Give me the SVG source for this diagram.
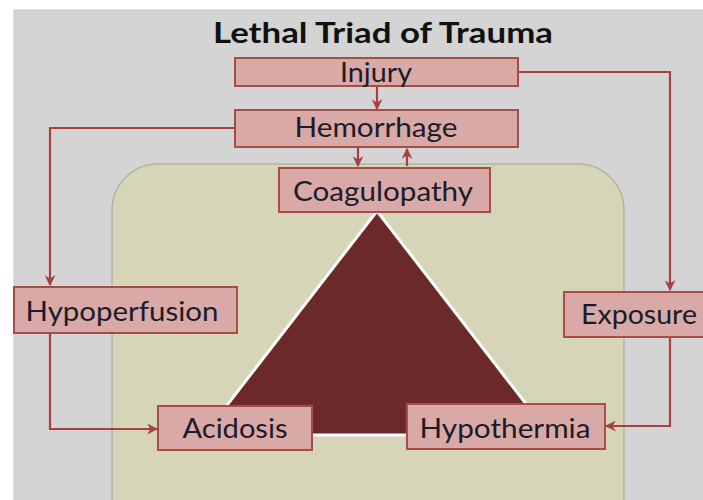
<svg xmlns="http://www.w3.org/2000/svg" width="703" height="500" viewBox="0 0 703 500">
<defs>
<marker id="ah" viewBox="0 0 10 10" refX="9" refY="5" markerWidth="5" markerHeight="5" orient="auto" markerUnits="strokeWidth">
<path d="M0,0 L10,5 L0,10 L3,5 Z" fill="#a8403f"/>
</marker>
<style>
.box{fill:#d9a9a8;stroke:#a84c4a;stroke-width:2}
.lbl{font-family:Lato,"Open Sans","Liberation Sans",sans-serif;font-size:26px;fill:#1c1c28;text-anchor:middle}
.con{fill:none;stroke:#a8403f;stroke-width:2.2;marker-end:url(#ah)}
</style>
</defs>
<rect x="0" y="0" width="703" height="500" fill="#ffffff"/>
<rect x="14" y="10" width="700" height="500" fill="#d4d4d4" stroke="#c4c8cc" stroke-width="1"/>
<text x="383" y="43" font-family="Lato,'Open Sans','Liberation Sans',sans-serif" font-size="28" font-weight="bold" fill="#111" text-anchor="middle" textLength="340" lengthAdjust="spacingAndGlyphs">Lethal Triad of Trauma</text>
<g id="bg-region">
<rect x="112" y="164" width="512" height="380" rx="46" fill="#d6d5b8" stroke="#b4b4a4" stroke-width="1.5"/>
</g>
<g id="triangle">
<polygon points="377,211 204,435 550,435" fill="#6c2929" stroke="#ffffff" stroke-width="3" stroke-linejoin="miter"/>
</g>
<g id="connectors">
<path class="con" d="M377,86 V109"/>
<path class="con" d="M358,147 V166"/>
<path class="con" d="M407,166 V149"/>
<path class="con" d="M235,128 H50 V285"/>
<path class="con" d="M50,334 V429 H157"/>
<path class="con" d="M518,72 H670 V290"/>
<path class="con" d="M670,338 V426 H606"/>
</g>
<g id="injury">
<rect class="box" x="235" y="58" width="283" height="28"/>
<text class="lbl" x="376" y="82" textLength="72" lengthAdjust="spacingAndGlyphs">Injury</text>
</g>
<g id="hemorrhage">
<rect class="box" x="235" y="110" width="283" height="37"/>
<text class="lbl" x="376" y="137" textLength="163" lengthAdjust="spacingAndGlyphs">Hemorrhage</text>
</g>
<g id="coagulopathy">
<rect class="box" x="279" y="168" width="211" height="44"/>
<text class="lbl" x="383" y="201" textLength="180" lengthAdjust="spacingAndGlyphs">Coagulopathy</text>
</g>
<g id="hypoperfusion">
<rect class="box" x="14" y="287" width="223" height="46"/>
<text class="lbl" x="122" y="321" textLength="193" lengthAdjust="spacingAndGlyphs">Hypoperfusion</text>
</g>
<g id="exposure">
<rect class="box" x="564" y="292" width="150" height="45"/>
<text class="lbl" x="639" y="324" textLength="116" lengthAdjust="spacingAndGlyphs">Exposure</text>
</g>
<g id="acidosis">
<rect class="box" x="158" y="406" width="154" height="44"/>
<text class="lbl" x="235" y="438" textLength="105" lengthAdjust="spacingAndGlyphs">Acidosis</text>
</g>
<g id="hypothermia">
<rect class="box" x="407" y="404" width="198" height="45"/>
<text class="lbl" x="505" y="438" textLength="171" lengthAdjust="spacingAndGlyphs">Hypothermia</text>
</g>
</svg>
